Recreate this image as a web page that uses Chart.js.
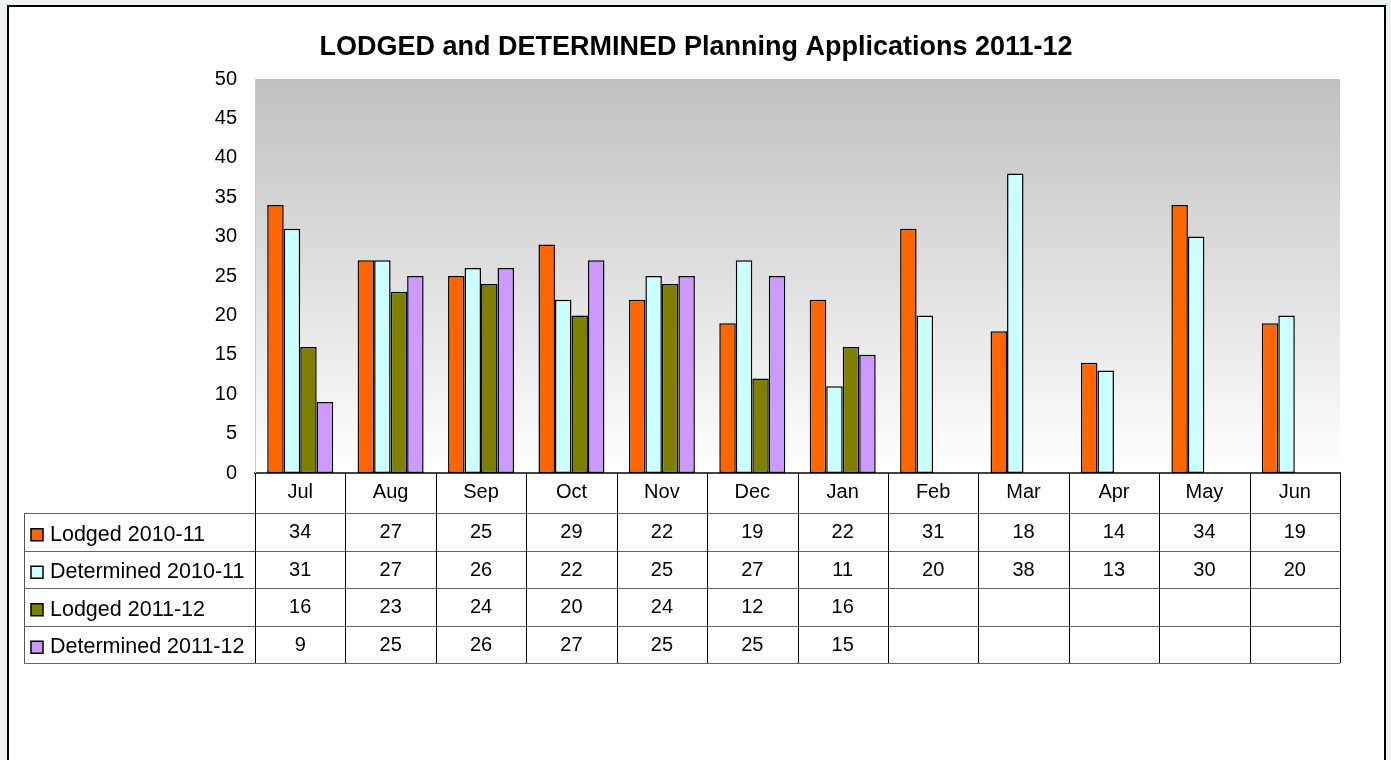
<!DOCTYPE html>
<html>
<head>
<meta charset="utf-8">
<script src="https://cdn.jsdelivr.net/npm/chart.js@4/dist/chart.umd.min.js"></script>
<style>
  html, body { margin: 0; padding: 0; background: #eef3f1; }
  canvas { display: block; }
</style>
</head>
<body>
<canvas id="c" width="1391" height="760"></canvas>
<script>
const categories = ['Jul','Aug','Sep','Oct','Nov','Dec','Jan','Feb','Mar','Apr','May','Jun'];
const seriesNames = ['Lodged 2010-11','Determined 2010-11','Lodged 2011-12','Determined 2011-12'];
const lodged1011 = [34,27,25,29,22,19,22,31,18,14,34,19];
const determined1011 = [31,27,26,22,25,27,11,20,38,13,30,20];
const lodged1112 = [16,23,24,20,24,12,16,null,null,null,null,null];
const determined1112 = [9,25,26,27,25,25,15,null,null,null,null,null];
const yTicks = [0,5,10,15,20,25,30,35,40,45,50];
const seriesColors = ['#FF6600','#CCFFFF','#808000','#CC99FF'];
const titleText = 'LODGED and DETERMINED Planning Applications 2011-12';

const seriesValues = [lodged1011, determined1011, lodged1112, determined1112];
const FONT = '"Liberation Sans", Arial, sans-serif';

const framePlugin = {
  id: 'frame',
  beforeDraw(chart) {
    const ctx = chart.ctx;
    const a = chart.chartArea;
    ctx.save();
    ctx.fillStyle = '#eef3f1';
    ctx.fillRect(0, 0, chart.width, chart.height);
    ctx.fillStyle = '#ffffff';
    ctx.fillRect(8, 6, 1377, 800);
    ctx.strokeStyle = '#000';
    ctx.lineWidth = 2;
    ctx.strokeRect(8, 6, 1377, 800);
    const g = ctx.createLinearGradient(0, a.top, 0, a.bottom);
    g.addColorStop(0, '#c0c0c0');
    g.addColorStop(1, '#ffffff');
    ctx.fillStyle = g;
    ctx.fillRect(a.left, a.top, a.right - a.left, a.bottom - a.top);
    ctx.restore();
  },
  afterDraw(chart) {
    const ctx = chart.ctx;
    const a = chart.chartArea;
    const xs = chart.scales.x;
    const n = categories.length;
    const w = (a.right - a.left) / n;
    const headerTop = a.bottom;
    const rowTop = 513;
    const rowH = 37.5;
    const tableBottom = rowTop + rowH * seriesNames.length;
    const legendLeft = 24;
    ctx.save();
    ctx.lineWidth = 1;
    ctx.strokeStyle = '#666';
    for (let r = 0; r <= seriesNames.length; r++) {
      const y = Math.round(rowTop + r * rowH) + 0.5;
      ctx.beginPath();
      ctx.moveTo(legendLeft, y);
      ctx.lineTo(a.right, y);
      ctx.stroke();
    }
    ctx.strokeStyle = '#000';
    for (let i = 0; i <= n; i++) {
      const x = Math.round(xs.getPixelForValue(0) - w / 2 + i * w) + 0.5;
      ctx.beginPath();
      ctx.moveTo(x, headerTop);
      ctx.lineTo(x, tableBottom);
      ctx.stroke();
    }
    ctx.strokeStyle = '#555';
    ctx.beginPath();
    ctx.moveTo(legendLeft + 0.5, rowTop);
    ctx.lineTo(legendLeft + 0.5, tableBottom);
    ctx.stroke();
    ctx.textBaseline = 'middle';
    for (let r = 0; r < seriesNames.length; r++) {
      const cy = rowTop + r * rowH + rowH / 2;
      ctx.fillStyle = seriesColors[r];
      ctx.fillRect(31, cy - 3, 12, 12);
      ctx.strokeStyle = '#000';
      ctx.lineWidth = 1.5;
      ctx.strokeRect(31, cy - 3, 12, 12);
      ctx.fillStyle = '#000';
      ctx.textAlign = 'left';
      ctx.font = '21.5px ' + FONT;
      ctx.fillText(seriesNames[r], 50, cy + 3);
      ctx.textAlign = 'center';
      ctx.font = '20px ' + FONT;
      const vals = seriesValues[r];
      for (let i = 0; i < n; i++) {
        if (vals[i] === null) continue;
        ctx.fillText(String(vals[i]), xs.getPixelForValue(i), cy + 1);
      }
    }
    ctx.restore();
  }
};

new Chart(document.getElementById('c'), {
  type: 'bar',
  data: {
    labels: categories,
    datasets: seriesNames.map((name, k) => ({
      label: name,
      data: seriesValues[k],
      backgroundColor: seriesColors[k],
      borderColor: '#000',
      borderWidth: 1.5,
      borderSkipped: false,
      categoryPercentage: 0.73,
      barPercentage: 1.0
    }))
  },
  options: {
    responsive: false,
    animation: false,
    layout: { padding: { left: 52, right: 51, top: 0, bottom: 247 } },
    plugins: {
      legend: { display: false },
      tooltip: { enabled: false },
      title: {
        display: true,
        text: titleText,
        color: '#000',
        font: { family: FONT, size: 27, weight: 'bold', lineHeight: 1.2 },
        padding: { top: 31, bottom: 15.6 }
      }
    },
    scales: {
      x: {
        grid: { display: false, drawTicks: false },
        border: { display: true, color: '#444', width: 2 },
        ticks: { color: '#000', font: { family: FONT, size: 20 }, padding: 7, maxRotation: 0 },
        afterFit(scale) { scale.height = 40; }
      },
      y: {
        min: 0, max: 50,
        afterBuildTicks(scale) { scale.ticks = yTicks.map(v => ({ value: v })); },
        grid: { display: false, drawTicks: false },
        border: { display: true, color: '#c8c8c8', width: 1 },
        ticks: { color: '#000', font: { family: FONT, size: 20 }, padding: 18 },
        afterFit(scale) { scale.width = 203; }
      }
    }
  },
  plugins: [framePlugin]
});
</script>
</body>
</html>
